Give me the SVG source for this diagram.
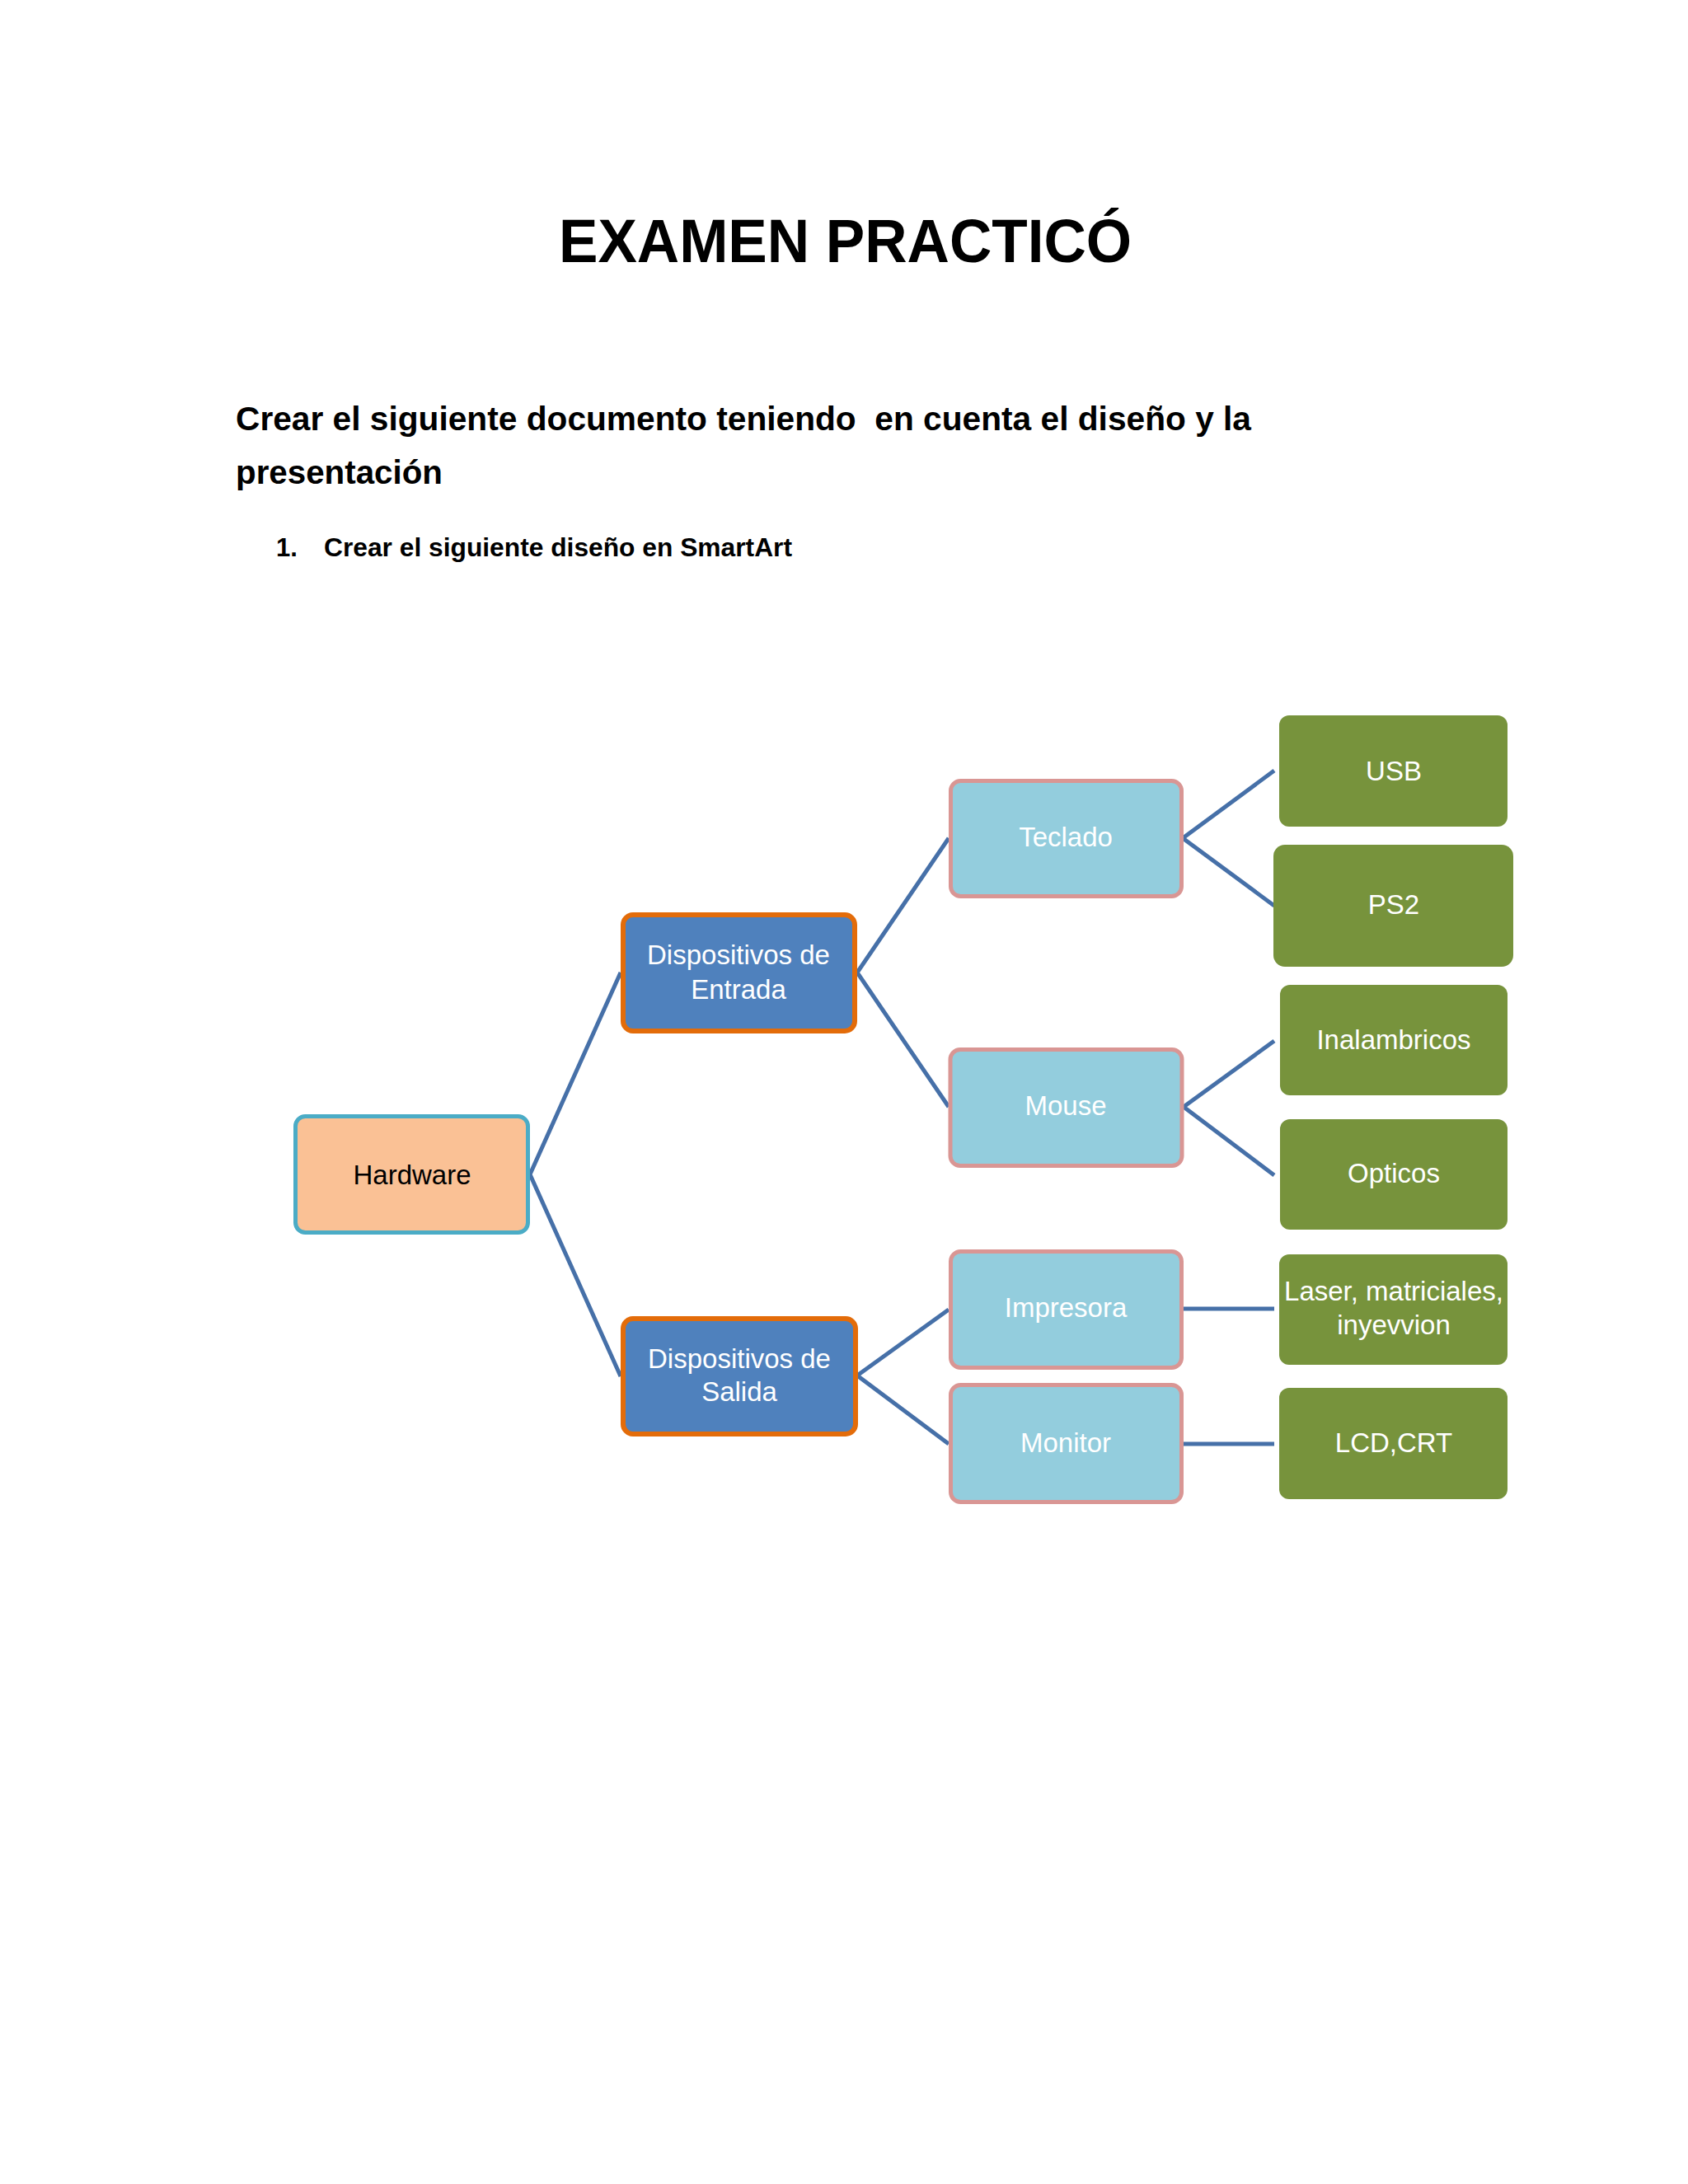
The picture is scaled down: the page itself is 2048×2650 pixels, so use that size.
<svg xmlns="http://www.w3.org/2000/svg" width="2048" height="2650" viewBox="0 0 2048 2650">
<style>
  .hdr{font-family:"Liberation Sans",Arial,sans-serif;font-weight:bold;fill:#000}
  .t{font-family:"Liberation Sans",Arial,sans-serif;font-size:33px;text-anchor:middle;fill:#fff}
  .l1{fill:#FAC195;stroke:#4BACC6;stroke-width:5}
  .l2{fill:#4F81BD;stroke:#E36C0A;stroke-width:6}
  .l3{fill:#93CDDD;stroke:#D99694;stroke-width:5}
  .l4{fill:#77933C}
  .c{fill:none;stroke:#4670A8;stroke-width:5;stroke-linejoin:miter}
</style>
<rect width="2048" height="2650" fill="#fff"/>
<g id="texts">
  <text class="hdr" x="678" y="318" font-size="74" textLength="695" lengthAdjust="spacingAndGlyphs">EXAMEN PRACTICÓ</text>
  <text class="hdr" x="286" y="522" font-size="41" xml:space="preserve" textLength="1232" lengthAdjust="spacingAndGlyphs">Crear el siguiente documento teniendo  en cuenta el diseño y la</text>
  <text class="hdr" x="286" y="587" font-size="41" textLength="251" lengthAdjust="spacingAndGlyphs">presentación</text>
  <text class="hdr" x="335" y="675" font-size="31">1.</text>
  <text class="hdr" x="393" y="675" font-size="31" textLength="568" lengthAdjust="spacingAndGlyphs">Crear el siguiente diseño en SmartArt</text>
</g>
<g id="connectors">
  <polyline class="c" points="753,1180 643,1425 753,1670"/>
  <polyline class="c" points="1151,1017 1040,1180 1151,1343"/>
  <polyline class="c" points="1151,1589 1040,1669 1151,1752"/>
  <polyline class="c" points="1546,935 1435,1017 1546,1099"/>
  <polyline class="c" points="1546,1263 1436,1343 1546,1426"/>
  <line class="c" x1="1435" y1="1588" x2="1546" y2="1588"/>
  <line class="c" x1="1435" y1="1752" x2="1546" y2="1752"/>
</g>
<g id="hardware">
  <rect class="l1" x="358.5" y="1354.5" width="282" height="141" rx="12"/>
  <text class="t" x="500" y="1437" style="fill:#000">Hardware</text>
</g>
<g id="entrada">
  <rect class="l2" x="756" y="1110" width="281" height="141" rx="12"/>
  <text class="t" x="896" y="1170">Dispositivos de</text>
  <text class="t" x="896" y="1212">Entrada</text>
</g>
<g id="salida">
  <rect class="l2" x="756" y="1600" width="282" height="140" rx="12"/>
  <text class="t" x="897" y="1660">Dispositivos de</text>
  <text class="t" x="897" y="1700">Salida</text>
</g>
<g id="teclado">
  <rect class="l3" x="1153.5" y="947.5" width="280" height="140" rx="12"/>
  <text class="t" x="1293" y="1027">Teclado</text>
</g>
<g id="mouse">
  <rect class="l3" x="1153" y="1273.5" width="281" height="141" rx="12"/>
  <text class="t" x="1293" y="1353">Mouse</text>
</g>
<g id="impresora">
  <rect class="l3" x="1153.5" y="1518.5" width="280" height="141" rx="12"/>
  <text class="t" x="1293" y="1598">Impresora</text>
</g>
<g id="monitor">
  <rect class="l3" x="1153.5" y="1680.5" width="280" height="142" rx="12"/>
  <text class="t" x="1293" y="1762">Monitor</text>
</g>
<g id="usb">
  <rect class="l4" x="1552" y="868" width="277" height="135" rx="12"/>
  <text class="t" x="1691" y="947">USB</text>
</g>
<g id="ps2">
  <rect class="l4" x="1545" y="1025" width="291" height="148" rx="14"/>
  <text class="t" x="1691" y="1109">PS2</text>
</g>
<g id="inalambricos">
  <rect class="l4" x="1553" y="1195" width="276" height="134" rx="12"/>
  <text class="t" x="1691" y="1273">Inalambricos</text>
</g>
<g id="opticos">
  <rect class="l4" x="1553" y="1358" width="276" height="134" rx="12"/>
  <text class="t" x="1691" y="1435">Opticos</text>
</g>
<g id="laser">
  <rect class="l4" x="1552" y="1522" width="277" height="134" rx="12"/>
  <text class="t" x="1691" y="1578">Laser, matriciales,</text>
  <text class="t" x="1691" y="1619">inyevvion</text>
</g>
<g id="lcd">
  <rect class="l4" x="1552" y="1684" width="277" height="135" rx="12"/>
  <text class="t" x="1691" y="1762">LCD,CRT</text>
</g>
</svg>
